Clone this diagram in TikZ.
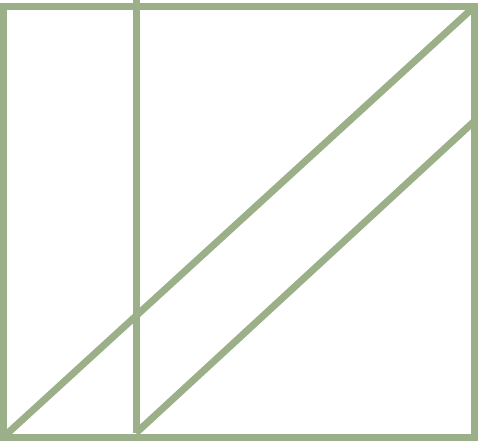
\documentclass[tikz,border=0pt]{standalone}
\usepackage{tikz}
\usetikzlibrary{positioning}
\definecolor{sage}{RGB}{155,176,136}

\begin{document}
\begin{tikzpicture}[
x=1pt, y=-1pt,
edge/.style={draw=sage, line width=7pt},
]
\useasboundingbox (0,0) rectangle (478,441);
%Corners
\coordinate (tl) at (3.5,6.5);
\coordinate (tr) at (474.5,6.5);
\coordinate (bl) at (3.5,437);
\coordinate (br) at (474.5,437);
\coordinate (top) at (136,0);
\coordinate (foot) at (136,433);
\coordinate (side) at (474.5,121);

%Lines
\draw[edge] (tl) rectangle (br);
\draw[edge] (top) -- (foot);
\draw[edge] (bl) -- (tr);
\draw[edge] (foot) -- (side);
\end{tikzpicture}
\end{document}
